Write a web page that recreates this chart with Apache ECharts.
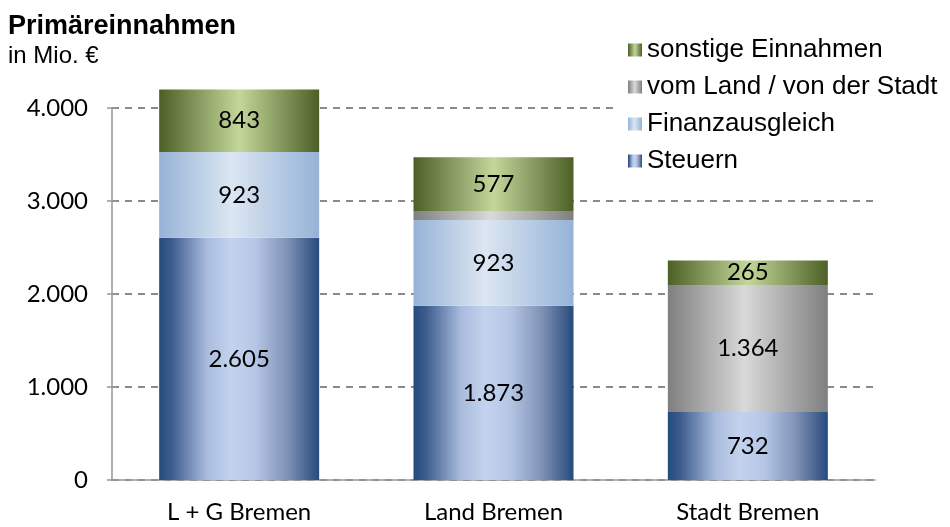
<!DOCTYPE html>
<html>
<head>
<meta charset="utf-8">
<script src="https://cdn.jsdelivr.net/npm/echarts@6/dist/echarts.min.js"></script>
<style>
  html, body { margin: 0; padding: 0; background: #fff; }
  #chart { width: 950px; height: 527px; }
</style>
</head>
<body>
<div id="chart"></div>
<script>
const categories = ['L + G Bremen', 'Land Bremen', 'Stadt Bremen']
const steuern = [2605, 1873, 732]
const finanzausgleich = [923, 923, 0]
const vomLand = [0, 97, 1364]
// bar heights as drawn; the printed labels differ for L + G
const sonstige = [670, 577, 265]
const sonstigeLabels = [843, 577, 265]
const yTicks = [0, 1000, 2000, 3000, 4000]

const axisGray = '#969696'
const gridGray = '#8a8a8a'
const labelFont = 'Lato, "Open Sans", sans-serif'
const textFont = '"Liberation Sans", Arial, sans-serif'

function fmt(v) {
  return String(v).replace(/\B(?=(\d{3})+(?!\d))/g, '.')
}

function hGrad(stops) {
  return {
    type: 'linear', x: 0, y: 0, x2: 1, y2: 0,
    colorStops: stops.map(([offset, color]) => ({ offset, color })),
  }
}

const steuernColor = hGrad([
  [0, '#244a7d'], [0.08, '#3e5d8e'], [0.3, '#aabcde'], [0.45, '#c3d3ee'],
  [0.6, '#b6c7e6'], [0.8, '#8092b6'], [0.93, '#46638f'], [1, '#254b7e'],
])
const finanzColor = hGrad([[0, '#95b3d7'], [0.45, '#dce6f2'], [1, '#95b3d7']])
const grauColor = hGrad([[0, '#7f7f7f'], [0.48, '#d9d9d9'], [1, '#7f7f7f']])
const gruenColor = hGrad([[0, '#4c5f25'], [0.5, '#c4d79b'], [1, '#4c5f25']])

function barLabel(labels) {
  return {
    show: true,
    position: 'inside',
    color: '#000',
    fontFamily: labelFont,
    fontSize: 24,
    formatter: (p) => {
      const v = labels ? labels[p.dataIndex] : p.value
      return v >= 150 ? fmt(v) : ''
    },
  }
}

const chart = echarts.init(document.getElementById('chart'))
chart.setOption({
  animation: false,
  title: {
    text: 'Primäreinnahmen',
    subtext: 'in Mio. €',
    left: 8,
    top: 13,
    padding: 0,
    itemGap: 4,
    textStyle: { fontFamily: textFont, fontSize: 27, fontWeight: 'bold', color: '#000' },
    subtextStyle: { fontFamily: textFont, fontSize: 24, color: '#000' },
  },
  legend: {
    orient: 'vertical',
    left: 614,
    top: 33,
    padding: [4, 4, 4, 14],
    backgroundColor: '#fff',
    itemWidth: 14,
    itemHeight: 13,
    itemGap: 11,
    icon: 'rect',
    data: ['sonstige Einnahmen', 'vom Land / von der Stadt', 'Finanzausgleich', 'Steuern'],
    textStyle: { fontFamily: textFont, fontSize: 26, lineHeight: 26, color: '#000' },
  },
  grid: { left: 112, right: 75, top: 108, bottom: 47 },
  xAxis: {
    type: 'category',
    data: categories,
    axisLine: { lineStyle: { color: axisGray, width: 1.5 } },
    axisTick: { length: 7, lineStyle: { color: axisGray, width: 1.5 } },
    axisLabel: { color: '#000', fontFamily: labelFont, fontSize: 24, margin: 20 },
  },
  yAxis: [
    {
      type: 'value',
      min: yTicks[0],
      max: yTicks[yTicks.length - 1],
      interval: 1000,
      axisLine: { show: true, lineStyle: { color: axisGray, width: 1.5 } },
      axisTick: { show: true, length: 5, lineStyle: { color: axisGray, width: 1.5 } },
      axisLabel: { color: '#000', fontFamily: labelFont, fontSize: 24, margin: 24, formatter: (v) => fmt(v) },
      splitLine: { lineStyle: { color: gridGray, type: [7, 6], width: 2 } },
    },
    {
      type: 'value',
      position: 'left',
      min: yTicks[0],
      max: yTicks[yTicks.length - 1],
      interval: 1000,
      axisLine: { show: false },
      axisTick: { show: true, inside: true, length: 5, lineStyle: { color: axisGray, width: 1.5 } },
      axisLabel: { show: false },
      splitLine: { show: false },
    },
  ],
  series: [
    {
      name: 'Steuern', type: 'bar', stack: 'total', barWidth: 160, clip: false,
      data: steuern, itemStyle: { color: steuernColor }, label: barLabel(),
    },
    {
      name: 'Finanzausgleich', type: 'bar', stack: 'total', clip: false,
      data: finanzausgleich, itemStyle: { color: finanzColor }, label: barLabel(),
    },
    {
      name: 'vom Land / von der Stadt', type: 'bar', stack: 'total', clip: false,
      data: vomLand, itemStyle: { color: grauColor }, label: barLabel(),
    },
    {
      name: 'sonstige Einnahmen', type: 'bar', stack: 'total', clip: false,
      data: sonstige, itemStyle: { color: gruenColor }, label: barLabel(sonstigeLabels),
    },
  ],
})
</script>
</body>
</html>
